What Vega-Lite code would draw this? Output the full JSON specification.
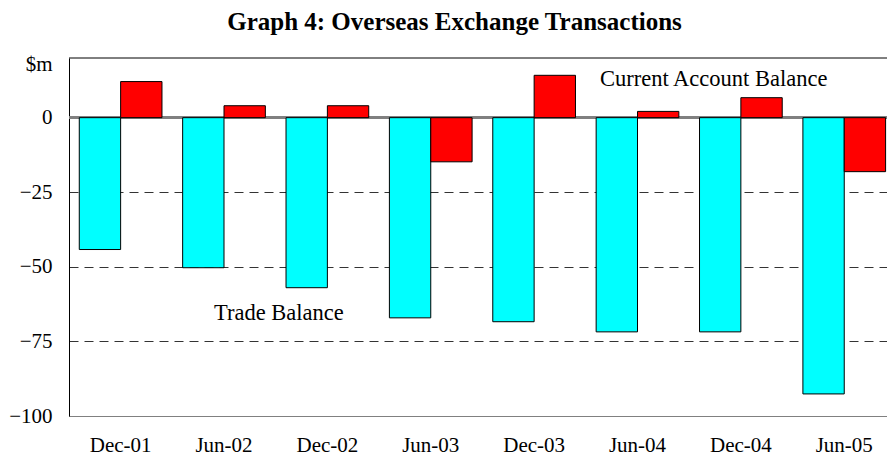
{
  "$schema": "https://vega.github.io/schema/vega-lite/v6.json",
  "width": 818,
  "height": 358,
  "autosize": {"type": "none"},
  "padding": {"left": 69, "top": 58, "right": 0, "bottom": 41},
  "background": "white",
  "title": {
    "text": "Graph 4: Overseas Exchange Transactions",
    "font": "Liberation Serif",
    "fontSize": 25,
    "fontWeight": "bold",
    "color": "black",
    "anchor": "middle",
    "dx": -23.5,
    "baseline": "alphabetic",
    "offset": -2
  },
  "config": {"view": {"stroke": null}, "font": "Liberation Serif"},
  "data": {
    "values": [
      {"period": "Dec-01", "series": "Trade Balance", "value": -44.2},
      {"period": "Dec-01", "series": "Current Account Balance", "value": 12.1},
      {"period": "Jun-02", "series": "Trade Balance", "value": -50.3},
      {"period": "Jun-02", "series": "Current Account Balance", "value": 4.0},
      {"period": "Dec-02", "series": "Trade Balance", "value": -57.0},
      {"period": "Dec-02", "series": "Current Account Balance", "value": 4.0},
      {"period": "Jun-03", "series": "Trade Balance", "value": -67.1},
      {"period": "Jun-03", "series": "Current Account Balance", "value": -14.8},
      {"period": "Dec-03", "series": "Trade Balance", "value": -68.4},
      {"period": "Dec-03", "series": "Current Account Balance", "value": 14.2},
      {"period": "Jun-04", "series": "Trade Balance", "value": -71.8},
      {"period": "Jun-04", "series": "Current Account Balance", "value": 2.1},
      {"period": "Dec-04", "series": "Trade Balance", "value": -71.8},
      {"period": "Dec-04", "series": "Current Account Balance", "value": 6.7},
      {"period": "Jun-05", "series": "Trade Balance", "value": -92.6},
      {"period": "Jun-05", "series": "Current Account Balance", "value": -18.1}
    ]
  },
  "layer": [
    {
      "mark": {"type": "rule", "color": "#808080", "strokeWidth": 2},
      "encoding": {"y": {"datum": 0, "type": "quantitative"}}
    },
    {
      "mark": {"type": "bar", "stroke": "black", "strokeWidth": 1},
      "encoding": {
        "x": {
          "field": "period",
          "type": "nominal",
          "sort": null,
          "scale": {"paddingInner": 0.2, "paddingOuter": 0.0565, "align": 0.88},
          "axis": {
            "title": null,
            "labelAngle": 0,
            "ticks": false,
            "tickSize": 0,
            "labelPadding": 18,
            "labelFont": "Liberation Serif",
            "labelFontSize": 21,
            "labelColor": "black",
            "domain": true,
            "domainColor": "#808080",
            "domainWidth": 1,
            "grid": false
          }
        },
        "xOffset": {
          "field": "series",
          "type": "nominal",
          "sort": ["Trade Balance", "Current Account Balance"],
          "scale": {"paddingInner": 0, "paddingOuter": 0}
        },
        "y": {
          "field": "value",
          "type": "quantitative",
          "scale": {"domain": [-100, 20], "nice": false, "zero": false},
          "axis": {
            "values": [-100, -75, -50, -25, 0],
            "grid": true,
            "gridDash": [9, 6],
            "gridColor": "#333333",
            "gridWidth": 1,
            "domain": true,
            "domainColor": "black",
            "domainWidth": 1,
            "ticks": false,
            "tickSize": 0,
            "labelPadding": 17,
            "labelFont": "Liberation Serif",
            "labelFontSize": 21,
            "labelColor": "black",
            "title": "$m",
            "titleAngle": 0,
            "titleAlign": "right",
            "titleBaseline": "middle",
            "titleX": -17,
            "titleY": 6,
            "titleFont": "Liberation Serif",
            "titleFontSize": 21,
            "titleFontWeight": "normal",
            "titleColor": "black"
          }
        },
        "color": {
          "field": "series",
          "type": "nominal",
          "scale": {"domain": ["Trade Balance", "Current Account Balance"], "range": ["#00FFFF", "#FF0000"]},
          "legend": null
        }
      }
    },
    {
      "data": {"values": [{"edge": "top"}]},
      "mark": {"type": "rule", "color": "black", "strokeWidth": 1},
      "encoding": {"y": {"datum": 20, "type": "quantitative"}}
    },
    {
      "data": {"values": [{"label": "Trade Balance"}]},
      "mark": {"type": "text", "font": "Liberation Serif", "fontSize": 22.5, "fontWeight": "normal", "fill": "black", "align": "left", "baseline": "middle", "dx": -10},
      "encoding": {
        "x": {"datum": "Jun-02", "type": "nominal"},
        "y": {"datum": -65.5, "type": "quantitative"},
        "text": {"field": "label"}
      }
    },
    {
      "data": {"values": [{"label": "Current Account Balance"}]},
      "mark": {"type": "text", "font": "Liberation Serif", "fontSize": 22.5, "fontWeight": "normal", "fill": "black", "align": "left", "baseline": "middle", "dx": -37.5},
      "encoding": {
        "x": {"datum": "Jun-04", "type": "nominal"},
        "y": {"datum": 13.0, "type": "quantitative"},
        "text": {"field": "label"}
      }
    }
  ]
}
